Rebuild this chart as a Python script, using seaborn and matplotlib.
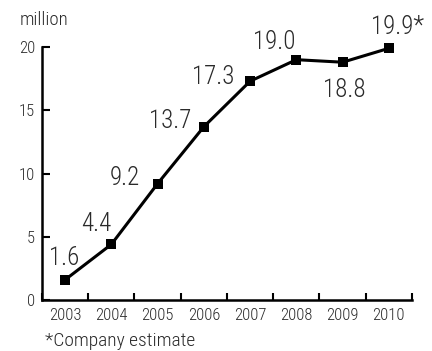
import matplotlib
matplotlib.use("Agg")
import matplotlib.pyplot as plt
import seaborn as sns
import pandas as pd
import numpy as np

years = ["2003", "2004", "2005", "2006", "2007", "2008", "2009", "2010"]
values = [1.6, 4.4, 9.2, 13.7, 17.3, 19.0, 18.8, 19.9]
value_labels = ["1.6", "4.4", "9.2", "13.7", "17.3", "19.0", "18.8", "19.9*"]
y_ticks = [0, 5, 10, 15, 20]

# label placement: (dx, dy) in points, horizontal alignment
label_pos = [(-1, 16, "center"), (-11, 15, "center"), (-13, 4, "right"),
             (-9, 4, "right"), (-11, 3, "right"), (-16, 13, "center"),
             (1, -20, "center"), (6, 15, "center")]

sns.set_theme(style="white")
plt.rcParams["font.family"] = ["Roboto Condensed", "DejaVu Sans"]
plt.rcParams["font.weight"] = "light"
txt = "#2a2a2a"

df = pd.DataFrame({"idx": np.arange(len(years)), "value": values})

fig = plt.figure(figsize=(4.32, 3.51), dpi=100)
ax = fig.add_axes([0.0972, 0.1453, 0.8565, 0.7207])

sns.lineplot(data=df, x="idx", y="value", ax=ax, color="black", linewidth=2.2,
             marker="s", markersize=7.2, markeredgewidth=0, markerfacecolor="black",
             clip_on=False)

for i, (v, lab) in enumerate(zip(values, value_labels)):
    dx, dy, ha = label_pos[i]
    ax.annotate(lab, (i, v), xytext=(dx, dy), textcoords="offset points",
                ha=ha, va="center", fontsize=18, color=txt, fontweight="light")

ax.set_xlim(-0.5, len(years) - 0.5)
ax.set_ylim(0, 20)
ax.set_xlabel("")
ax.set_ylabel("")

# boundary ticks between years, labels centred on each year
ax.set_xticks(np.arange(len(years) + 1) - 0.5)
ax.set_xticklabels([])
ax.set_xticks(np.arange(len(years)), minor=True)
ax.set_xticklabels(years, minor=True, fontsize=12, color=txt)
ax.tick_params(axis="x", which="major", bottom=True, direction="in", length=5,
               width=1.5, color="black")
ax.tick_params(axis="x", which="minor", bottom=True, length=0, pad=6)

ax.set_yticks(y_ticks)
ax.set_yticklabels([str(t) for t in y_ticks], fontsize=12, color=txt)
ax.tick_params(axis="y", left=True, direction="in", length=6, width=1.5,
               color="black", pad=5)

for side in ["top", "right"]:
    ax.spines[side].set_visible(False)
for side in ["left", "bottom"]:
    ax.spines[side].set_linewidth(1.8)
    ax.spines[side].set_color("black")

fig.text(20 / 432, 1 - 20 / 351, "million", fontsize=13.5, color=txt,
         ha="left", va="center", fontweight="light")
fig.text(45 / 432, 1 - 341 / 351, "*Company estimate", fontsize=14, color=txt,
         ha="left", va="center", fontweight="light")

fig.savefig("out.png", dpi=100)
